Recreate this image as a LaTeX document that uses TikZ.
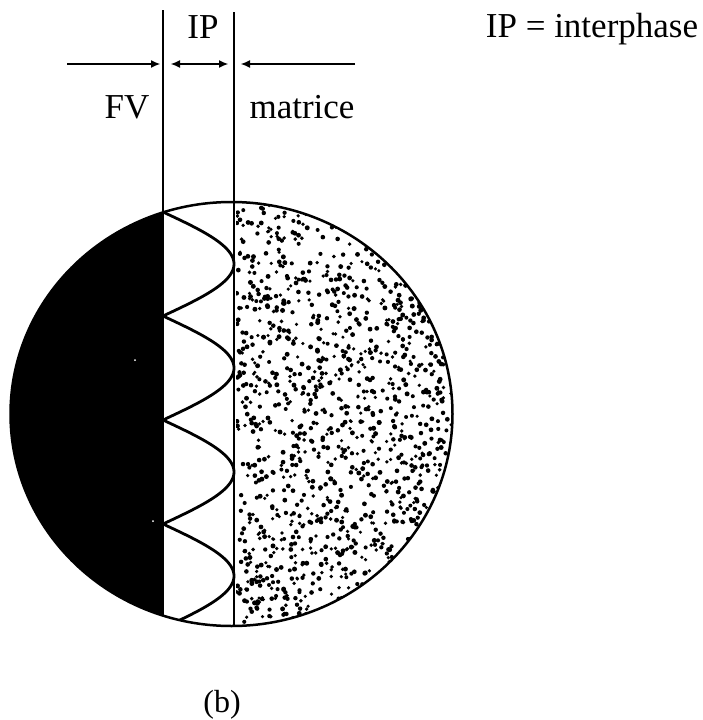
\documentclass[tikz,border=0pt]{standalone}
\usepackage{fontspec}
\setmainfont{Liberation Serif}
\usetikzlibrary{arrows.meta}
\tikzset{
  lbl/.style={inner sep=0pt, anchor=base, font=\fontsize{35}{40}\selectfont},
  divline/.style={line width=2pt},
  rim/.style={line width=2.5pt},
  wave/.style={line width=2.8pt},
  arr/.style={line width=1.1pt, -{Latex[length=9pt,width=8pt]}},
  darr/.style={line width=1.1pt, {Latex[length=9pt,width=8pt]}-{Latex[length=9pt,width=8pt]}},
  speck/.style={fill=black}
}
\begin{document}
\begin{tikzpicture}[x=1pt,y=-1pt]
\useasboundingbox (0,0) rectangle (703,720);
% black region (FV)
\begin{scope}
  \clip (0,0) rectangle (163,720);
  \fill[black] (231.5,414) ellipse [x radius=221pt, y radius=212pt];
\end{scope}
\fill[white] (135,360) circle[radius=1pt];
\fill[white] (153,521) circle[radius=1pt];
% stippled matrix
\begin{scope}
  \clip (231.5,414) ellipse [x radius=221pt, y radius=212pt];
  \clip (236,0) rectangle (460,720);
  \pgfmathsetseed{4711}
  \foreach \i in {1,...,1450}{
    \pgfmathsetmacro{\dx}{236+rnd*218}
    \pgfmathsetmacro{\dy}{201+rnd*426}
    \pgfmathsetmacro{\dr}{1.7+rnd*0.8}
    \fill[speck] (\dx,\dy) circle[radius=\dr pt];
  }
\end{scope}
% interphase wave
\begin{scope}
  \clip (231.5,414) ellipse [x radius=221pt, y radius=212pt];
  \draw[wave, line join=miter] plot[domain=212:632, samples=241] ({163+71*abs(sin((\x-212)*1.730769))},\x);
\end{scope}
% outline
\draw[rim] (231.5,414) ellipse [x radius=221pt, y radius=212pt];
% vertical lines
\coordinate (L1t) at (163,10);
\coordinate (L1b) at (163,615.6);
\coordinate (L2t) at (234,12);
\coordinate (L2b) at (234,626);
\draw[divline] (L1t) -- (L1b);
\draw[divline, line width=1.6pt] (L2t) -- (L2b);
% arrows
\coordinate (aFVs) at (67,64);
\coordinate (aFVe) at (160,64);
\coordinate (aIPs) at (171,64);
\coordinate (aIPe) at (228,64);
\coordinate (aMs) at (355,64);
\coordinate (aMe) at (241,64);
\draw[arr] (aFVs) -- (aFVe);
\draw[darr] (aIPs) -- (aIPe);
\draw[arr] (aMs) -- (aMe);
% labels
\node[lbl] (ip) at (203,38) {IP};
\node[lbl] (fv) at (127,118) {FV};
\node[lbl] (mat) at (302,118) {matrice};
\node[lbl] (leg) at (592,37) {IP = interphase};
\node[lbl, font=\fontsize{32}{36}\selectfont] (b) at (222,712) {(b)};
\end{tikzpicture}
\end{document}
